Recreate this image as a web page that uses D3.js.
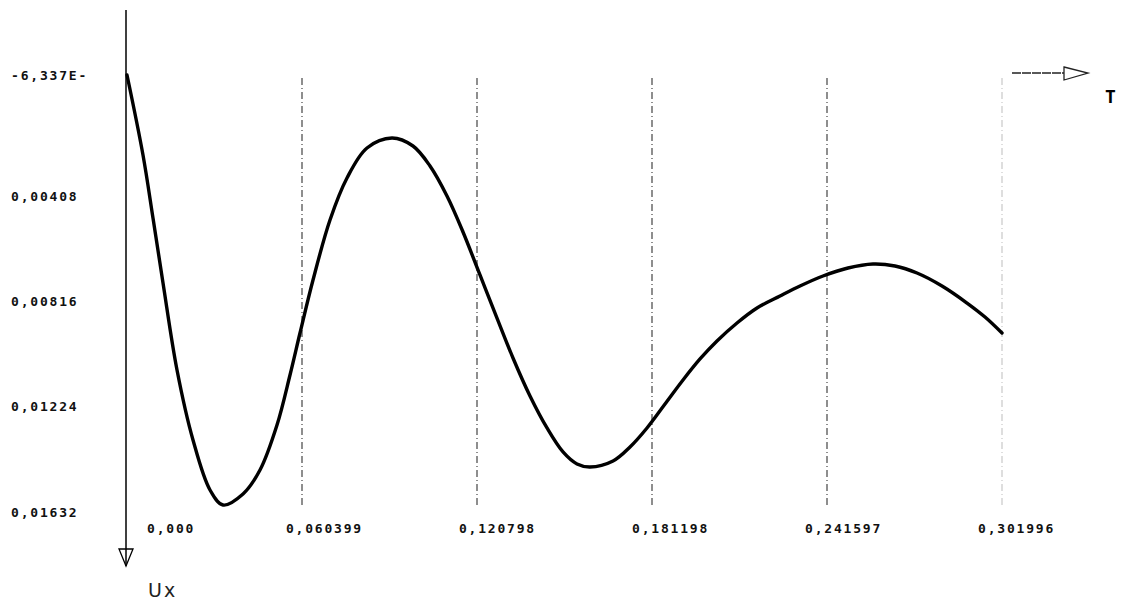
<!DOCTYPE html>
<html>
<head>
<meta charset="utf-8">
<script src="https://cdn.jsdelivr.net/npm/d3@7"></script>
<style>
  body { margin: 0; background: #fff; }
  svg { display: block; }
</style>
</head>
<body>
<div id="chart"></div>
<script>
// time values (T) and displacement (Ux)
var tValues = [0, 0.00552, 0.00897, 0.01243, 0.01726, 0.02278, 0.02865, 0.03313,
  0.04004, 0.04590, 0.05177, 0.05626, 0.05971, 0.06420, 0.07006, 0.07593, 0.08283, 0.09146,
  0.09871, 0.10458, 0.11044, 0.11597, 0.12183, 0.12770, 0.13322, 0.13909, 0.14496, 0.15048,
  0.15531, 0.15980, 0.16774, 0.17361, 0.17947, 0.18569, 0.19190, 0.19777, 0.20363, 0.21054,
  0.21744, 0.22538, 0.23228, 0.24022, 0.24885, 0.25747, 0.26507, 0.27266, 0.28129, 0.28992,
  0.29613, 0.301996];
var uxValues = [-0.000634, 0.002470, 0.004914, 0.007436, 0.010811, 0.013527, 0.015467, 0.016049,
  0.015622, 0.014691, 0.012945, 0.011005, 0.009376, 0.007320, 0.004992, 0.003362, 0.002198, 0.001810,
  0.002121, 0.002897, 0.004061, 0.005457, 0.007125, 0.008794, 0.010345, 0.011820, 0.013061, 0.013992,
  0.014458, 0.014574, 0.014341, 0.013798, 0.013061, 0.012130, 0.011199, 0.010384, 0.009686, 0.008988,
  0.008406, 0.007940, 0.007552, 0.007164, 0.006854, 0.006699, 0.006776, 0.007048, 0.007552, 0.008212,
  0.008755, 0.009376];

var xTicks = [0, 0.060399, 0.120798, 0.181198, 0.241597, 0.301996];
var xTickLabels = ["0,000", "0,060399", "0,120798", "0,181198", "0,241597", "0,301996"];
var yTicks = [-0.0006337, 0.00408, 0.00816, 0.01224, 0.01632];
var yTickLabels = ["-6,337E-", "0,00408", "0,00816", "0,01224", "0,01632"];

var width = 1125, height = 601;

var svg = d3.select("#chart").append("svg")
  .attr("width", width)
  .attr("height", height);

svg.append("rect").attr("width", width).attr("height", height).attr("fill", "#fff");

var x = d3.scaleLinear().domain([0, 0.301996]).range([127, 1002]);
// y grows downwards (Ux axis arrow points down)
var y = d3.scaleLinear().domain([-0.0006337, 0.01632]).range([75, 512]);

var data = tValues.map(function(t, i) { return { t: t, u: uxValues[i] }; });

// dash-dot vertical grid lines
svg.selectAll(".grid")
  .data(xTicks.slice(1))
  .enter().append("line")
  .attr("class", "grid")
  .attr("x1", function(d) { return x(d); })
  .attr("x2", function(d) { return x(d); })
  .attr("y1", 78)
  .attr("y2", 506)
  .attr("stroke", function(d, i) { return i == 4 ? "#c8c8c8" : "#444"; })
  .attr("stroke-width", 1.2)
  .attr("stroke-dasharray", "7,3,1,3");

// Ux axis line + open arrow head
svg.append("line")
  .attr("x1", x(0) - 1).attr("x2", x(0) - 1)
  .attr("y1", 10).attr("y2", 566)
  .attr("stroke", "#000").attr("stroke-width", 1.5);
svg.append("path")
  .attr("d", "M" + (x(0) - 8) + ",549 L" + (x(0) + 6) + ",549 L" + (x(0) - 1) + ",566 Z")
  .attr("fill", "none").attr("stroke", "#000").attr("stroke-width", 1.3);
svg.append("text")
  .attr("x", 148).attr("y", 597)
  .attr("font-family", "DejaVu Sans")
  .attr("font-size", 19)
  .attr("letter-spacing", 2)
  .attr("fill", "#222")
  .text("Ux");

// T arrow on the top right
svg.append("line")
  .attr("x1", 1012).attr("x2", 1064)
  .attr("y1", 73).attr("y2", 73)
  .attr("stroke", "#222").attr("stroke-width", 1.3)
  .attr("stroke-dasharray", "9,1");
svg.append("path")
  .attr("d", "M1064,67 L1088,73 L1064,80 Z")
  .attr("fill", "none").attr("stroke", "#222").attr("stroke-width", 1.3);
svg.append("text")
  .attr("x", 1105).attr("y", 103)
  .attr("font-family", "DejaVu Sans Mono")
  .attr("font-weight", "bold")
  .attr("font-size", 18)
  .attr("fill", "#000")
  .text("T");

// tick labels
var labelFont = function(sel) {
  sel.attr("font-family", "DejaVu Sans Mono")
    .attr("font-weight", "bold")
    .attr("font-size", 13)
    .attr("letter-spacing", 1.8)
    .attr("fill", "#111");
};

svg.selectAll(".ylab")
  .data(yTicks)
  .enter().append("text")
  .attr("class", "ylab")
  .attr("x", 11)
  .attr("y", function(d) { return y(d); })
  .attr("dy", "0.35em")
  .call(labelFont)
  .text(function(d, i) { return yTickLabels[i]; });

svg.selectAll(".xlab")
  .data(xTicks)
  .enter().append("text")
  .attr("class", "xlab")
  .attr("x", function(d, i) { return i == 0 ? x(d) + 20 : x(d) - 14 - i * 2; })
  .attr("y", 528)
  .attr("dy", "0.35em")
  .call(labelFont)
  .text(function(d, i) { return xTickLabels[i]; });

// the response curve
var line = d3.line()
  .x(function(d) { return x(d.t); })
  .y(function(d) { return y(d.u); })
  .curve(d3.curveCatmullRom.alpha(0.5));

svg.append("path")
  .datum(data)
  .attr("d", line)
  .attr("fill", "none")
  .attr("stroke", "#000")
  .attr("stroke-width", 3.4)
  .attr("stroke-linejoin", "round")
  .attr("stroke-linecap", "round");
</script>
</body>
</html>
